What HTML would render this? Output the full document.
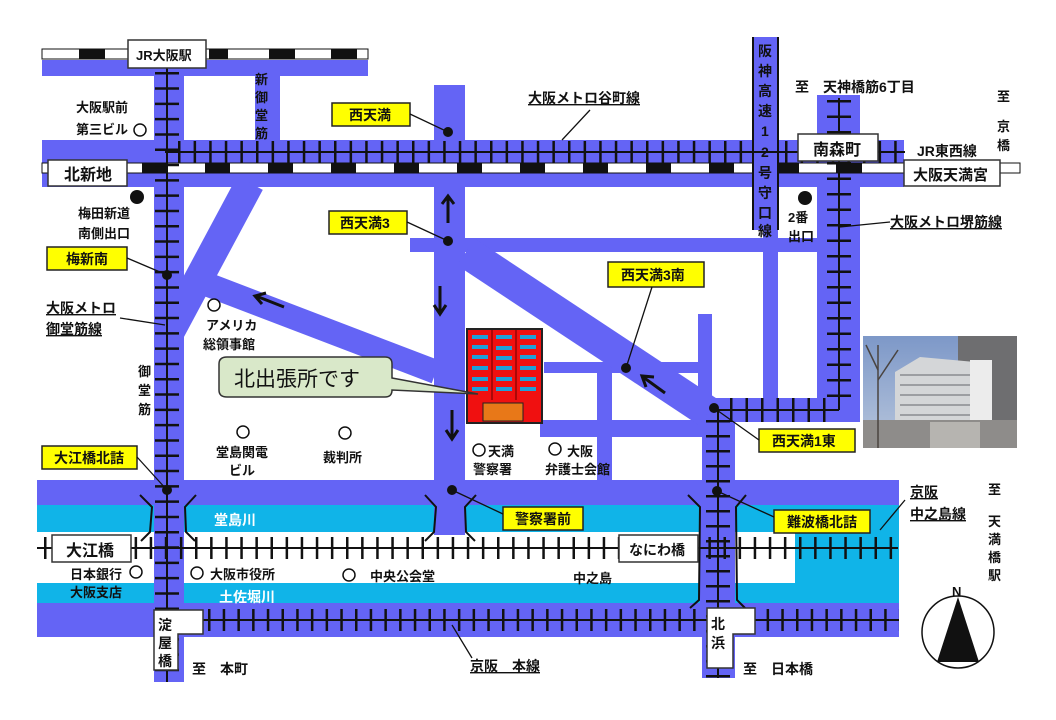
<!DOCTYPE html>
<html><head><meta charset="utf-8"><style>
html,body{margin:0;padding:0;background:#fff;}
svg{display:block;}
text{font-family:"Liberation Sans","Noto Sans CJK JP",sans-serif;font-weight:bold;fill:#111;}
</style></head><body>
<svg width="1056" height="720" viewBox="0 0 1056 720" xmlns="http://www.w3.org/2000/svg" font-size="12">
<rect width="1056" height="720" fill="#fff"/>
<g fill="#6464f5">
<rect x="42" y="60" width="326" height="16"/>
<rect x="255" y="70" width="25" height="75"/>
<rect x="42" y="140" width="862" height="47"/>
<rect x="154" y="68" width="30" height="614"/>
<rect x="434" y="85" width="31" height="450"/>
<rect x="410" y="238" width="408" height="14"/>
<rect x="817" y="95" width="43" height="327"/>
<rect x="763" y="225" width="15" height="175"/>
<rect x="698" y="314" width="14" height="90"/>
<rect x="702" y="398" width="158" height="24"/>
<rect x="702" y="398" width="33" height="280"/>
<rect x="544" y="362" width="168" height="11"/>
<rect x="540" y="420" width="165" height="17"/>
<rect x="597" y="362" width="15" height="118"/>
<rect x="37" y="480" width="862" height="25"/>
<rect x="37" y="603" width="862" height="34"/>
</g>
<g stroke="#6464f5" fill="none">
<line x1="250" y1="183" x2="168" y2="336" stroke-width="29"/>
<line x1="206" y1="284" x2="436" y2="372" stroke-width="24"/>
<line x1="466" y1="252" x2="708" y2="412" stroke-width="32"/>
</g>
<g fill="#10b4e8">
<rect x="37" y="505" width="862" height="27"/>
<rect x="37" y="583" width="862" height="20"/>
<rect x="795" y="532" width="104" height="51"/>
</g>
<g fill="#6464f5">
<rect x="154" y="505" width="30" height="98"/>
<rect x="434" y="505" width="31" height="27"/>
<rect x="700" y="505" width="35" height="98"/>
</g>

<!-- JR top -->
<rect x="42" y="49" width="326" height="10" fill="#fff" stroke="#111" stroke-width="1"/>
<g fill="#111"><rect x="79" y="49" width="26" height="10"/><rect x="209" y="49" width="19" height="10"/><rect x="269" y="49" width="26" height="10"/><rect x="331" y="49" width="26" height="10"/></g>
<!-- JR tozai -->
<rect x="42" y="163" width="978" height="10" fill="#fff" stroke="#111" stroke-width="1"/>
<g fill="#111">
<rect x="142" y="163" width="25" height="10"/><rect x="205" y="163" width="25" height="10"/><rect x="268" y="163" width="25" height="10"/><rect x="331" y="163" width="25" height="10"/><rect x="394" y="163" width="25" height="10"/><rect x="457" y="163" width="25" height="10"/><rect x="520" y="163" width="25" height="10"/><rect x="583" y="163" width="25" height="10"/><rect x="646" y="163" width="25" height="10"/><rect x="709" y="163" width="25" height="10"/><rect x="779" y="163" width="20" height="10"/><rect x="836" y="163" width="26" height="10"/>
</g>

<!-- hanshin expressway -->
<rect x="753" y="37" width="25" height="193" fill="#6464f5"/>
<line x1="753" y1="37" x2="753" y2="230" stroke="#111" stroke-width="2"/>
<line x1="778" y1="37" x2="778" y2="230" stroke="#111" stroke-width="2"/>
<g font-size="14">
<text x="758" y="56">阪</text><text x="758" y="76">神</text><text x="758" y="96">高</text><text x="758" y="116">速</text>
<text x="761" y="136">1</text><text x="761" y="157">2</text><text x="758" y="178">号</text><text x="758" y="198">守</text><text x="758" y="218">口</text><text x="758" y="236">線</text>
</g>

<!-- subway rails -->
<g stroke="#111" fill="none">
<line x1="167" y1="68" x2="167" y2="682" stroke-width="2"/>
<line x1="167" y1="72" x2="167" y2="682" stroke-width="24" stroke-dasharray="2.5 12.8"/>
<line x1="165" y1="152" x2="905" y2="152" stroke-width="2"/>
<line x1="178" y1="152" x2="750" y2="152" stroke-width="22" stroke-dasharray="2.5 13.1"/>
<line x1="785" y1="152" x2="905" y2="152" stroke-width="22" stroke-dasharray="2.5 13.1"/>
<line x1="839" y1="98" x2="839" y2="410" stroke-width="2"/>
<line x1="839" y1="100" x2="839" y2="400" stroke-width="24" stroke-dasharray="2.5 13"/>
<line x1="714" y1="410" x2="839" y2="410" stroke-width="2"/>
<line x1="730" y1="410" x2="832" y2="410" stroke-width="24" stroke-dasharray="2.5 13"/>
<line x1="718" y1="410" x2="718" y2="678" stroke-width="2"/>
<line x1="718" y1="420" x2="718" y2="678" stroke-width="24" stroke-dasharray="2.5 12.5"/>
<line x1="37" y1="548" x2="898" y2="548" stroke-width="2"/>
<line x1="44" y1="548" x2="898" y2="548" stroke-width="22" stroke-dasharray="2.5 12.6"/>
<line x1="203" y1="620" x2="899" y2="620" stroke-width="2"/>
<line x1="208" y1="620" x2="899" y2="620" stroke-width="22" stroke-dasharray="2.5 12.2"/>
<polyline points="140,495 152,507 150,532 141,541" stroke-width="2"/>
<polyline points="196,495 185,507 186,532 195,541" stroke-width="2"/>
<polyline points="425,495 436,507 434,532 425,541" stroke-width="2"/>
<polyline points="476,495 465,507 466,532 475,541" stroke-width="2"/>
<polyline points="688,495 700,507 699,600 690,608" stroke-width="2"/>
<polyline points="746,495 736,507 737,600 745,608" stroke-width="2"/>
</g>

<!-- station boxes -->
<g fill="#fff" stroke="#333" stroke-width="1.5">
<rect x="128" y="40" width="78" height="28"/>
<rect x="48" y="160" width="79" height="26"/>
<rect x="798" y="134" width="80" height="27"/>
<rect x="904" y="160" width="96" height="26"/>
<rect x="52" y="535" width="79" height="27"/>
<rect x="619" y="535" width="79" height="27"/>
<path d="M154,610 H203 V634 H178 V670 H154 Z"/>
<path d="M707,608 H755 V634 H733 V668 H707 Z"/>
</g>
<text x="136" y="60" font-size="13">JR大阪駅</text>
<text x="64" y="180" font-size="16">北新地</text>
<text x="813" y="155" font-size="16">南森町</text>
<text x="913" y="180" font-size="15">大阪天満宮</text>
<text x="66" y="556" font-size="16">大江橋</text>
<text x="629" y="555" font-size="14">なにわ橋</text>
<text x="158" y="630" font-size="14">淀</text><text x="158" y="648" font-size="14">屋</text><text x="158" y="666" font-size="14">橋</text>
<text x="711" y="629" font-size="14">北</text><text x="711" y="648" font-size="14">浜</text>

<!-- yellow stop labels -->
<g fill="#ffff00" stroke="#222" stroke-width="1.5">
<rect x="332" y="103" width="78" height="23"/>
<rect x="329" y="211" width="78" height="23"/>
<rect x="47" y="247" width="80" height="23"/>
<rect x="608" y="262" width="96" height="25"/>
<rect x="759" y="429" width="96" height="23"/>
<rect x="42" y="446" width="95" height="23"/>
<rect x="503" y="507" width="80" height="23"/>
<rect x="774" y="510" width="96" height="23"/>
</g>
<g font-size="14">
<text x="349" y="120">西天満</text>
<text x="340" y="228">西天満3</text>
<text x="66" y="264">梅新南</text>
<text x="621" y="280">西天満3南</text>
<text x="772" y="446">西天満1東</text>
<text x="54" y="463">大江橋北詰</text>
<text x="515" y="524">警察署前</text>
<text x="787" y="527">難波橋北詰</text>
</g>
<g stroke="#111" stroke-width="1.3">
<line x1="410" y1="114" x2="448" y2="132"/>
<line x1="407" y1="222" x2="448" y2="241"/>
<line x1="127" y1="258" x2="167" y2="275"/>
<line x1="652" y1="287" x2="626" y2="368"/>
<line x1="759" y1="440" x2="714" y2="408"/>
<line x1="137" y1="457" x2="167" y2="490"/>
<line x1="503" y1="514" x2="452" y2="490"/>
<line x1="774" y1="517" x2="717" y2="491"/>
<line x1="590" y1="110" x2="562" y2="140"/>
<line x1="890" y1="222" x2="840" y2="227"/>
<line x1="120" y1="318" x2="165" y2="325"/>
<line x1="452" y1="625" x2="472" y2="658"/>
<line x1="905" y1="500" x2="880" y2="530"/>
</g>
<g fill="#111">
<circle cx="448" cy="132" r="5"/><circle cx="448" cy="241" r="5"/><circle cx="167" cy="275" r="5"/>
<circle cx="626" cy="368" r="5"/><circle cx="714" cy="408" r="5"/><circle cx="167" cy="490" r="5"/>
<circle cx="452" cy="490" r="5"/><circle cx="717" cy="491" r="5"/>
<circle cx="137" cy="197" r="7"/><circle cx="805" cy="198" r="7"/>
</g>
<g stroke="#111" stroke-width="3" fill="none">
<line x1="448" y1="223" x2="448" y2="197"/><polyline points="442,204 448,196 454,204"/>
<line x1="440" y1="286" x2="440" y2="312"/><polyline points="434,305 440,314 446,305"/>
<line x1="452" y1="410" x2="452" y2="437"/><polyline points="446,430 452,439 458,430"/>
<line x1="284" y1="307" x2="256" y2="296"/><polyline points="266,293 255,296 262,304"/>
<line x1="665" y1="393" x2="643" y2="377"/><polyline points="654,377 642,376 646,387"/>
</g>
<g fill="#fff" stroke="#111" stroke-width="1.5">
<circle cx="140" cy="130" r="6"/><circle cx="214" cy="305" r="6"/><circle cx="243" cy="432" r="6"/>
<circle cx="345" cy="433" r="6"/><circle cx="479" cy="450" r="6"/><circle cx="555" cy="449" r="6"/>
<circle cx="136" cy="572" r="6"/><circle cx="197" cy="573" r="6"/><circle cx="349" cy="575" r="6"/>
</g>
<g font-size="13">
<text x="76" y="112">大阪駅前</text><text x="76" y="134">第三ビル</text>
<text x="255" y="84">新</text><text x="255" y="102">御</text><text x="255" y="120">堂</text><text x="255" y="138">筋</text>
<text x="528" y="103" font-size="14" text-decoration="underline">大阪メトロ谷町線</text>
<text x="795" y="92" font-size="14">至　天神橋筋6丁目</text>
<text x="997" y="101">至</text><text x="997" y="131">京</text><text x="997" y="150">橋</text>
<text x="917" y="156" font-size="14">JR東西線</text>
<text x="890" y="227" font-size="14" text-decoration="underline">大阪メトロ堺筋線</text>
<text x="788" y="222">2番</text><text x="788" y="241">出口</text>
<text x="78" y="218">梅田新道</text><text x="78" y="238">南側出口</text>
<text x="46" y="313" font-size="14" text-decoration="underline">大阪メトロ</text>
<text x="46" y="334" font-size="14" text-decoration="underline">御堂筋線</text>
<text x="138" y="376">御</text><text x="138" y="395">堂</text><text x="138" y="414">筋</text>
<text x="206" y="330">アメリカ</text><text x="203" y="349">総領事館</text>
<text x="216" y="457">堂島関電</text><text x="229" y="475">ビル</text>
<text x="323" y="462">裁判所</text>
<text x="488" y="456">天満</text><text x="473" y="474">警察署</text>
<text x="567" y="456">大阪</text><text x="545" y="474">弁護士会館</text>
<text x="214" y="525" font-size="14" style="fill:#fff">堂島川</text>
<text x="70" y="579">日本銀行</text><text x="70" y="597">大阪支店</text>
<text x="210" y="579">大阪市役所</text>
<text x="370" y="581">中央公会堂</text>
<text x="573" y="583">中之島</text>
<text x="219" y="602" font-size="14" style="fill:#fff">土佐堀川</text>
<text x="192" y="674" font-size="14">至　本町</text>
<text x="470" y="671" font-size="14" text-decoration="underline">京阪　本線</text>
<text x="743" y="674" font-size="14">至　日本橋</text>
<text x="910" y="497" font-size="14" text-decoration="underline">京阪</text>
<text x="910" y="519" font-size="14" text-decoration="underline">中之島線</text>
<text x="988" y="494">至</text><text x="988" y="526">天</text><text x="988" y="544">満</text><text x="988" y="562">橋</text><text x="988" y="580">駅</text>
</g>

<!-- building -->
<rect x="467" y="329" width="75" height="94" fill="#f01010" stroke="#222" stroke-width="2"/>
<g stroke="#600" stroke-width="1"><line x1="492" y1="330" x2="492" y2="400"/><line x1="516" y1="330" x2="516" y2="400"/></g>
<g fill="#20a0d8">
<rect x="472" y="335" width="16" height="4"/><rect x="496" y="335" width="16" height="4"/><rect x="520" y="335" width="16" height="4"/>
<rect x="472" y="345" width="16" height="4"/><rect x="496" y="346" width="16" height="4"/><rect x="520" y="345" width="16" height="4"/>
<rect x="472" y="355" width="16" height="4"/><rect x="496" y="356" width="16" height="4"/><rect x="520" y="355" width="16" height="4"/>
<rect x="472" y="366" width="16" height="4"/><rect x="496" y="366" width="16" height="4"/><rect x="520" y="366" width="16" height="4"/>
<rect x="472" y="377" width="16" height="4"/><rect x="496" y="377" width="16" height="4"/><rect x="520" y="377" width="16" height="4"/>
<rect x="472" y="387" width="16" height="4"/><rect x="496" y="387" width="16" height="4"/><rect x="520" y="387" width="16" height="4"/>
</g>
<rect x="483" y="403" width="40" height="18" fill="#e87818" stroke="#222" stroke-width="1"/>
<path d="M227,357 H385 Q392,357 392,364 V378 L478,394 L392,390 V390 Q392,397 385,397 H227 Q219,397 219,390 V364 Q219,357 227,357 Z" fill="#d9e8c9" stroke="#333" stroke-width="1.5"/>
<text x="234" y="386" font-size="21" style="font-weight:normal">北出張所です</text>

<!-- photo -->
<defs><linearGradient id="sky" x1="0" y1="0" x2="0" y2="1"><stop offset="0" stop-color="#7d98c8"/><stop offset="1" stop-color="#b8c6dc"/></linearGradient></defs>
<rect x="863" y="336" width="154" height="112" fill="url(#sky)"/>
<rect x="958" y="336" width="59" height="112" fill="#6e6e70"/>
<polygon points="895,372 920,357 975,362 975,430 895,430" fill="#d4d6d8"/>
<rect x="970" y="360" width="22" height="70" fill="#ececec"/>
<g stroke="#8a8c90" stroke-width="1.5"><line x1="900" y1="375" x2="970" y2="375"/><line x1="900" y1="385" x2="970" y2="385"/><line x1="900" y1="395" x2="970" y2="395"/><line x1="900" y1="405" x2="970" y2="405"/><line x1="900" y1="415" x2="970" y2="415"/></g>
<rect x="863" y="420" width="154" height="28" fill="#8e8c8a"/>
<rect x="930" y="422" width="50" height="26" fill="#b6b4b0"/>
<g stroke="#4a4440" stroke-width="1.5" fill="none"><line x1="878" y1="448" x2="878" y2="345"/><line x1="878" y1="380" x2="898" y2="350"/><line x1="878" y1="370" x2="866" y2="345"/></g>

<!-- compass -->
<circle cx="958" cy="632" r="36" fill="#fff" stroke="#111" stroke-width="1.5"/>
<polygon points="958,597 937,662 979,662" fill="#111"/>
<text x="952" y="596" font-size="13">N</text>
</svg>
</body></html>
